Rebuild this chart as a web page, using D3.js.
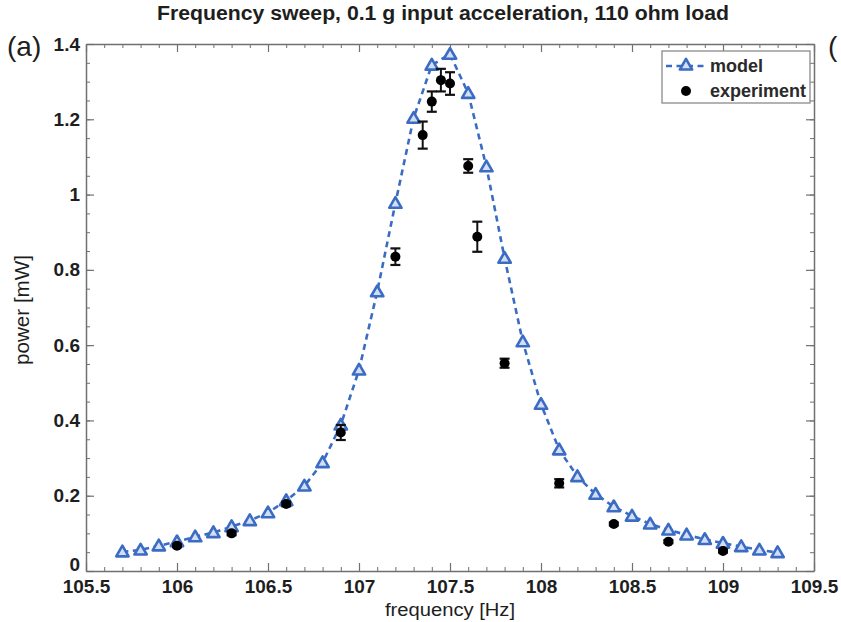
<!DOCTYPE html>
<html>
<head>
<meta charset="utf-8">
<script src="https://cdn.jsdelivr.net/npm/d3@7"></script>
<style>
  html, body { margin: 0; padding: 0; background: #fff; }
  svg { display: block; }
  text { font-family: "Liberation Sans", Arial, Helvetica, sans-serif; }
</style>
</head>
<body>
<svg id="chart" width="841" height="622"></svg>
<script>
// ---------------- data ----------------
const titleText = "Frequency sweep, 0.1 g input acceleration, 110 ohm load";
const xLabel = "frequency [Hz]";
const yLabel = "power [mW]";

const xTicks = [105.5, 106, 106.5, 107, 107.5, 108, 108.5, 109, 109.5];
const yTicks = [0, 0.2, 0.4, 0.6, 0.8, 1, 1.2, 1.4];

const modelFreq = [105.7, 105.8, 105.9, 106.0, 106.1, 106.2, 106.3, 106.4, 106.5, 106.6,
                   106.7, 106.8, 106.9, 107.0, 107.1, 107.2, 107.3, 107.4, 107.5, 107.6,
                   107.7, 107.8, 107.9, 108.0, 108.1, 108.2, 108.3, 108.4, 108.5, 108.6,
                   108.7, 108.8, 108.9, 109.0, 109.1, 109.2, 109.3];
const modelPower = [0.051, 0.056, 0.067, 0.078, 0.091, 0.102, 0.118, 0.134, 0.155, 0.187,
                    0.226, 0.288, 0.388, 0.534, 0.742, 0.977, 1.203, 1.344, 1.373, 1.269,
                    1.074, 0.831, 0.609, 0.443, 0.322, 0.251, 0.204, 0.171, 0.146, 0.125,
                    0.109, 0.096, 0.084, 0.074, 0.065, 0.056, 0.049];

const expFreq  = [106.0, 106.3, 106.6, 106.9, 107.2, 107.35, 107.4, 107.45, 107.5, 107.6,
                  107.65, 107.8, 108.1, 108.4, 108.7, 109.0];
const expPower = [0.067, 0.100, 0.178, 0.368, 0.835, 1.158, 1.247, 1.304, 1.295, 1.076,
                  0.888, 0.552, 0.233, 0.125, 0.078, 0.053];
const expErr   = [0.004, 0.005, 0.006, 0.020, 0.022, 0.036, 0.027, 0.030, 0.030, 0.018,
                  0.040, 0.012, 0.011, 0.004, 0.004, 0.004];

const legendLabels = ["model", "experiment"];

// ---------------- layout ----------------
const L = 86, R = 814, T = 44, B = 571;
const svg = d3.select("#chart");
svg.append("rect").attr("width", 841).attr("height", 622).attr("fill", "#fff");

const x = d3.scaleLinear().domain([105.5, 109.5]).range([L, R]);
const y = d3.scaleLinear().domain([0, 1.4]).range([B, T]);

const axisColor = "#707070";
const textColor = "#1e1e1e";
const blue = "#3b6cc4";

// minor ticks
const xMinor = d3.range(105.5, 109.5001, 0.1).map(v => +v.toFixed(2));
const yMinor = d3.range(0, 1.4001, 0.05).map(v => +v.toFixed(3));

function styleAxis(g) {
  g.selectAll("path.domain").attr("stroke", axisColor).attr("stroke-width", 1.5);
  g.selectAll(".tick line").attr("stroke", axisColor).attr("stroke-width", 1.2);
  g.selectAll(".tick text")
    .attr("fill", textColor)
    .attr("font-size", 19)
    .attr("font-weight", "bold")
    .attr("font-family", "'Liberation Sans', Arial, Helvetica, sans-serif");
}

// minor axes (no labels)
const minorGroups = [
  svg.append("g").attr("transform", `translate(0,${B})`).call(d3.axisBottom(x).tickValues(xMinor).tickSize(-4).tickFormat("")),
  svg.append("g").attr("transform", `translate(0,${T})`).call(d3.axisTop(x).tickValues(xMinor).tickSize(-4).tickFormat("")),
  svg.append("g").attr("transform", `translate(${L},0)`).call(d3.axisLeft(y).tickValues(yMinor).tickSize(-4).tickFormat("")),
  svg.append("g").attr("transform", `translate(${R},0)`).call(d3.axisRight(y).tickValues(yMinor).tickSize(-4).tickFormat(""))
];
minorGroups.forEach(g => { g.select("path.domain").remove(); g.selectAll(".tick line").attr("stroke", axisColor).attr("stroke-width", 1); });

// major axes
const fmt = d => d3.format("~g")(d);
const gx = svg.append("g").attr("transform", `translate(0,${B})`)
  .call(d3.axisBottom(x).tickValues(xTicks).tickSize(-8).tickSizeOuter(0).tickPadding(9).tickFormat(fmt));
styleAxis(gx);
const gxt = svg.append("g").attr("transform", `translate(0,${T})`)
  .call(d3.axisTop(x).tickValues(xTicks).tickSize(-8).tickSizeOuter(0).tickFormat(""));
styleAxis(gxt);
const gy = svg.append("g").attr("transform", `translate(${L},0)`)
  .call(d3.axisLeft(y).tickValues(yTicks).tickSize(-8).tickSizeOuter(0).tickPadding(6).tickFormat(fmt));
styleAxis(gy);
const gyr = svg.append("g").attr("transform", `translate(${R},0)`)
  .call(d3.axisRight(y).tickValues(yTicks).tickSize(-8).tickSizeOuter(0).tickFormat(""));
styleAxis(gyr);
// lift the "0" y-label so it sits just above the 105.5 label, as in the reference
gy.selectAll(".tick text").filter(d => d === 0).attr("dy", "-0.02em");

// ---------------- model line + markers ----------------
const modelData = modelFreq.map((f, i) => ({ f, p: modelPower[i] }));
svg.append("path")
  .datum(modelData)
  .attr("fill", "none")
  .attr("stroke", blue)
  .attr("stroke-width", 2.6)
  .attr("stroke-dasharray", "6,4.5")
  .attr("d", d3.line().x(d => x(d.f)).y(d => y(d.p)));

const tri = d3.symbol().type(d3.symbolTriangle).size(66);
svg.append("g").selectAll("path")
  .data(modelData)
  .join("path")
  .attr("transform", d => `translate(${x(d.f)},${y(d.p) + 1})`)
  .attr("d", tri)
  .attr("fill", "#d4def3")
  .attr("stroke", blue)
  .attr("stroke-width", 2.6)
  .attr("stroke-linejoin", "round");

// ---------------- experiment ----------------
const expData = expFreq.map((f, i) => ({ f, p: expPower[i], e: expErr[i] }));
const eg = svg.append("g");
const cap = 5;
eg.selectAll("g.err")
  .data(expData)
  .join("g")
  .attr("class", "err")
  .each(function (d) {
    const g = d3.select(this);
    const cx = x(d.f), y0 = y(d.p - d.e), y1 = y(d.p + d.e);
    g.append("line").attr("x1", cx).attr("x2", cx).attr("y1", y0).attr("y2", y1)
      .attr("stroke", "#111").attr("stroke-width", 2);
    g.append("line").attr("x1", cx - cap).attr("x2", cx + cap).attr("y1", y0).attr("y2", y0)
      .attr("stroke", "#111").attr("stroke-width", 2.2);
    g.append("line").attr("x1", cx - cap).attr("x2", cx + cap).attr("y1", y1).attr("y2", y1)
      .attr("stroke", "#111").attr("stroke-width", 2.2);
  });
eg.selectAll("circle")
  .data(expData)
  .join("circle")
  .attr("cx", d => x(d.f))
  .attr("cy", d => y(d.p))
  .attr("r", 5)
  .attr("fill", "#000");

// ---------------- legend ----------------
const lg = svg.append("g");
lg.append("rect").attr("x", 662).attr("y", 51).attr("width", 148).attr("height", 52)
  .attr("fill", "#fff").attr("stroke", "#8a8a8a").attr("stroke-width", 1.3);
const lx = 686, ly1 = 66, ly2 = 91;
lg.append("line").attr("x1", 666).attr("x2", 707).attr("y1", ly1).attr("y2", ly1)
  .attr("stroke", blue).attr("stroke-width", 2.6).attr("stroke-dasharray", "6,4.5");
lg.append("path").attr("transform", `translate(${lx},${ly1})`).attr("d", tri)
  .attr("fill", "#d4def3").attr("stroke", blue).attr("stroke-width", 2.6).attr("stroke-linejoin", "round");
lg.append("circle").attr("cx", lx).attr("cy", ly2).attr("r", 5).attr("fill", "#000");
lg.selectAll("text.leg")
  .data(legendLabels)
  .join("text")
  .attr("class", "leg")
  .attr("x", 710)
  .attr("y", (d, i) => [ly1, ly2][i])
  .attr("dy", "0.35em")
  .attr("font-size", 18)
  .attr("font-weight", "bold")
  .attr("fill", "#2a2a2a")
  .text(d => d);

// ---------------- texts ----------------
svg.append("text")
  .attr("x", 443).attr("y", 20)
  .attr("text-anchor", "middle")
  .attr("font-size", 20)
  .attr("font-weight", "bold")
  .attr("textLength", 572)
  .attr("lengthAdjust", "spacingAndGlyphs")
  .attr("fill", textColor)
  .text(titleText);

svg.append("text")
  .attr("x", 450).attr("y", 616)
  .attr("text-anchor", "middle")
  .attr("font-size", 18)
  .attr("textLength", 130)
  .attr("lengthAdjust", "spacingAndGlyphs")
  .attr("fill", textColor)
  .text(xLabel);

svg.append("text")
  .attr("transform", `translate(29,${310}) rotate(-90)`)
  .attr("text-anchor", "middle")
  .attr("font-size", 20)
  .attr("textLength", 110)
  .attr("lengthAdjust", "spacingAndGlyphs")
  .attr("fill", textColor)
  .text(yLabel);

svg.append("text")
  .attr("x", 7).attr("y", 56)
  .attr("font-size", 28)
  .attr("fill", textColor)
  .text("(a)");

svg.append("text")
  .attr("x", 828).attr("y", 56)
  .attr("font-size", 28)
  .attr("fill", textColor)
  .text("(");
</script>
</body>
</html>
